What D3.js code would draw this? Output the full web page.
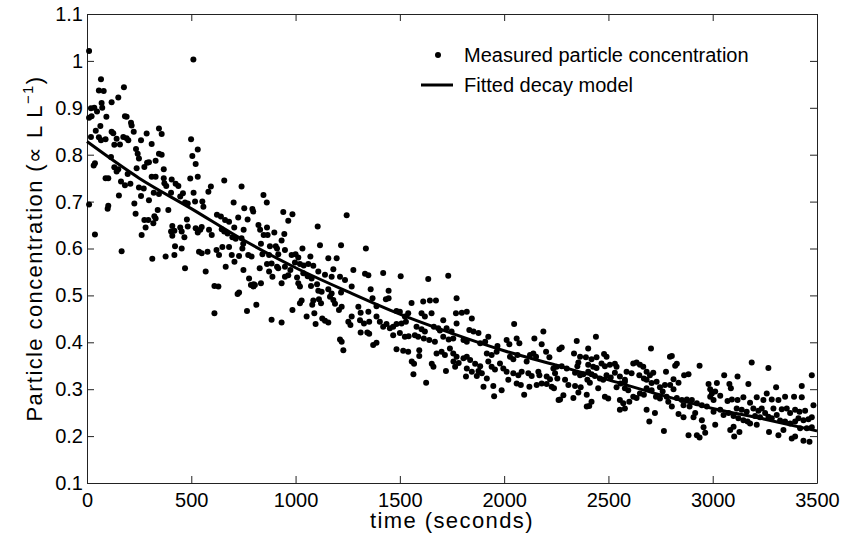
<!DOCTYPE html>
<html>
<head>
<meta charset="utf-8">
<script src="https://cdn.jsdelivr.net/npm/d3@7"></script>
<style>
  body { margin: 0; background: #fff; }
  svg { display: block; }
  .tickText { font-family: "Liberation Sans", Arial, Helvetica, sans-serif; font-size: 20px; fill: #000; }
  .axisLabel { font-family: "Liberation Sans", Arial, Helvetica, sans-serif; font-size: 22px; letter-spacing: 1.4px; fill: #000; }
</style>
</head>
<body>
<div id="chart"></div>
<script>
// x / y domains and ticks
const xTicks = [0, 500, 1000, 1500, 2000, 2500, 3000, 3500];
const yTicks = [0.1, 0.2, 0.3, 0.4, 0.5, 0.6, 0.7, 0.8, 0.9, 1, 1.1];

// measured particle concentration, [time (s), concentration]
const measured = [
  [10,1.021],[510,1.003],[67,0.961],[57,0.937],[80,0.936],[177,0.944],[150,0.922],[118,0.912],[70,0.910],[73,0.900],
  [19,0.899],[35,0.900],[48,0.892],[10,0.879],[22,0.882],[93,0.881],[182,0.882],[190,0.881],[211,0.868],[214,0.862],
  [64,0.861],[42,0.851],[118,0.849],[126,0.846],[224,0.849],[345,0.856],[358,0.844],[286,0.845],[19,0.838],[57,0.837],
  [67,0.831],[89,0.833],[142,0.834],[131,0.821],[158,0.822],[174,0.838],[190,0.835],[198,0.831],[259,0.831],[310,0.823],
  [499,0.833],[531,0.811],[235,0.812],[243,0.802],[249,0.792],[115,0.795],[38,0.782],[32,0.777],[345,0.802],[358,0.800],
  [288,0.783],[275,0.774],[297,0.784],[329,0.787],[368,0.769],[131,0.773],[142,0.764],[150,0.769],[195,0.759],[238,0.771],
  [505,0.797],[521,0.780],[531,0.753],[495,0.749],[310,0.753],[329,0.753],[368,0.750],[89,0.750],[102,0.750],[163,0.743],
  [182,0.735],[208,0.738],[406,0.747],[425,0.738],[438,0.733],[371,0.739],[380,0.733],[658,0.745],[594,0.732],[582,0.721],
  [741,0.732],[249,0.730],[272,0.728],[153,0.713],[320,0.719],[345,0.716],[403,0.719],[460,0.718],[447,0.711],[470,0.698],
  [483,0.696],[511,0.719],[518,0.700],[553,0.700],[558,0.689],[297,0.703],[259,0.712],[227,0.696],[10,0.694],[102,0.691],
  [99,0.685],[703,0.698],[754,0.686],[793,0.684],[797,0.679],[233,0.674],[339,0.682],[390,0.682],[323,0.669],[318,0.654],
  [329,0.664],[275,0.661],[294,0.661],[281,0.645],[262,0.629],[38,0.630],[623,0.672],[642,0.668],[662,0.661],[681,0.657],
  [725,0.666],[770,0.662],[646,0.641],[658,0.636],[674,0.632],[706,0.645],[751,0.640],[409,0.648],[403,0.636],[419,0.638],
  [409,0.627],[447,0.645],[454,0.636],[479,0.662],[483,0.647],[521,0.643],[531,0.634],[543,0.640],[550,0.646],[585,0.640],
  [598,0.629],[697,0.624],[713,0.621],[741,0.622],[749,0.610],[467,0.624],[422,0.605],[454,0.600],[166,0.594],[313,0.578],
  [377,0.583],[419,0.586],[537,0.593],[550,0.590],[578,0.593],[621,0.597],[633,0.586],[649,0.603],[681,0.603],[694,0.586],
  [729,0.584],[745,0.600],[773,0.586],[789,0.583],
  [470,0.558],[569,0.551],[611,0.520],[630,0.519],[665,0.561],[722,0.503],[729,0.506],[611,0.462],[767,0.467],[812,0.480],
  [750,0.554],[777,0.536],[786,0.522],[799,0.524],[707,0.572],
  [846,0.714],[862,0.698],[941,0.678],[985,0.673],[965,0.659],[1245,0.671],[1106,0.647],[822,0.650],[830,0.640],[863,0.645],
  [898,0.634],[847,0.629],[866,0.629],[946,0.631],[933,0.617],[834,0.610],[877,0.605],[905,0.605],[911,0.600],[949,0.597],
  [873,0.586],[841,0.588],[917,0.588],[981,0.586],[1000,0.588],[1013,0.581],[1033,0.600],[1071,0.583],[1117,0.607],[1218,0.607],
  [1157,0.579],[1197,0.579],[863,0.567],[885,0.568],[911,0.561],[917,0.558],[828,0.558],[873,0.551],[889,0.540],[949,0.561],
  [975,0.554],[997,0.570],[1021,0.567],[1039,0.564],[1061,0.567],[1085,0.563],[965,0.543],[949,0.540],[933,0.526],[1007,0.538],
  [1013,0.526],[1021,0.519],[834,0.526],[798,0.519],[805,0.522],[1037,0.547],[1058,0.541],[1077,0.536],[1109,0.551],[1141,0.544],
  [1173,0.540],[1181,0.556],[1213,0.540],[1237,0.533],[1269,0.519],[1277,0.554],[1074,0.520],[1103,0.524],[1109,0.510],[1125,0.508],
  [1157,0.513],[1173,0.504],[1218,0.506],[1029,0.489],[1021,0.483],[1085,0.489],[1080,0.480],[1112,0.492],[1122,0.483],[1165,0.497],
  [1181,0.490],[1189,0.482],[985,0.469],[1053,0.455],[1090,0.462],[1096,0.439],[1128,0.451],[1141,0.446],[1157,0.442],[885,0.448],
  [933,0.442],[1208,0.469],[1221,0.476],[1253,0.444],[1263,0.437],[1269,0.455],
  [1337,0.600],[1420,0.548],[1333,0.546],[1349,0.543],[1504,0.541],[1636,0.535],[1732,0.542],[1360,0.513],[1446,0.510],[1433,0.492],
  [1446,0.494],[1369,0.494],[1301,0.476],[1312,0.463],[1349,0.465],[1388,0.477],[1556,0.484],[1612,0.487],[1644,0.489],[1673,0.489],
  [1772,0.494],[1484,0.467],[1500,0.465],[1540,0.462],[1524,0.455],[1604,0.462],[1620,0.455],[1652,0.462],[1769,0.462],[1708,0.447],
  [1309,0.447],[1328,0.440],[1353,0.444],[1388,0.455],[1404,0.444],[1420,0.433],[1436,0.439],[1452,0.430],[1468,0.433],[1484,0.439],
  [1508,0.440],[1529,0.444],[1580,0.433],[1604,0.428],[1620,0.423],[1663,0.433],[1684,0.430],[1692,0.425],[1724,0.430],[1748,0.423],
  [1772,0.440],[1344,0.421],[1353,0.418],[1388,0.399],[1372,0.394],[1468,0.415],[1500,0.420],[1524,0.412],[1542,0.413],[1572,0.415],
  [1588,0.412],[1615,0.408],[1641,0.405],[1668,0.401],[1708,0.412],[1734,0.406],[1756,0.408],[1484,0.385],[1516,0.382],[1540,0.380],
  [1593,0.383],[1593,0.371],[1676,0.376],[1700,0.380],[1716,0.373],[1740,0.387],[1756,0.376],[1772,0.369],[1213,0.406],[1221,0.401],
  [1229,0.383],[1312,0.421],
  [1797,0.463],[1821,0.465],[1845,0.451],[1833,0.426],[1853,0.423],[1877,0.420],[1924,0.412],[1805,0.405],[1821,0.401],[1885,0.398],
  [1909,0.401],[1805,0.366],[1821,0.369],[1837,0.362],[1861,0.354],[1885,0.349],[1877,0.339],[1821,0.344],[1845,0.337],[1817,0.327],
  [1869,0.328],[1893,0.334],[1917,0.376],[1940,0.373],[1964,0.380],[1968,0.392],[1917,0.323],[1901,0.305],[1948,0.307],[1952,0.285],
  [1988,0.298],[1924,0.359],[1940,0.348],[1956,0.342],[1980,0.355],[1996,0.344],[2012,0.337],[2012,0.405],[2025,0.396],[2048,0.439],
  [2060,0.408],[2073,0.398],[2028,0.369],[2044,0.364],[2064,0.373],[2020,0.320],[2044,0.334],[2068,0.330],[2084,0.337],[2060,0.312],
  [2080,0.309],[2096,0.288],[2108,0.359],[2124,0.373],[2140,0.376],[2153,0.369],[2145,0.408],[2188,0.423],[2180,0.396],[2201,0.380],
  [2217,0.368],[2116,0.334],[2132,0.328],[2121,0.305],[2156,0.309],[2180,0.312],[2204,0.311],[2164,0.337],[2169,0.330],[2204,0.327],
  [2220,0.321],[2236,0.344],[2252,0.348],[2276,0.349],[2300,0.344],[2265,0.385],[2276,0.389],[2244,0.334],[2255,0.323],[2228,0.305],
  [2239,0.302],[2292,0.320],[2308,0.309],[2284,0.287],[2268,0.278],[1565,0.332],[1626,0.314],[1557,0.359],[1568,0.354],[1653,0.354],
  [1661,0.348],[1721,0.339],[1757,0.359],[1765,0.348],[1782,0.356],
  [2348,0.403],[2440,0.412],[2403,0.387],[2335,0.376],[2364,0.369],[2392,0.368],[2419,0.364],[2443,0.368],[2479,0.375],[2491,0.369],
  [2356,0.357],[2351,0.349],[2403,0.352],[2427,0.348],[2443,0.345],[2467,0.355],[2483,0.349],[2507,0.352],[2531,0.354],[2539,0.348],
  [2340,0.335],[2364,0.330],[2380,0.332],[2403,0.337],[2419,0.332],[2399,0.320],[2411,0.314],[2435,0.328],[2459,0.323],[2475,0.320],
  [2491,0.330],[2511,0.325],[2531,0.335],[2340,0.307],[2367,0.304],[2356,0.293],[2396,0.288],[2419,0.273],[2408,0.264],[2451,0.302],
  [2483,0.284],[2499,0.280],[2539,0.304],[2558,0.312],[2579,0.316],[2579,0.302],[2595,0.298],[2555,0.277],[2571,0.270],[2555,0.256],
  [2579,0.259],[2600,0.273],[2619,0.284],[2635,0.281],[2619,0.355],[2635,0.357],[2651,0.352],[2667,0.348],[2587,0.337],[2611,0.334],
  [2648,0.330],[2670,0.323],[2683,0.337],[2699,0.330],[2715,0.335],[2704,0.387],[2776,0.337],[2795,0.369],[2555,0.327],[2579,0.320],
  [2683,0.320],[2707,0.313],[2731,0.316],[2747,0.304],[2771,0.309],[2683,0.302],[2707,0.298],[2651,0.291],[2670,0.288],[2728,0.284],
  [2747,0.280],[2779,0.284],[2787,0.273],[2683,0.256],[2723,0.249],[2696,0.231],[2766,0.211],[2760,0.295],[2261,0.277],[2332,0.281],
  [2396,0.263],
  [2804,0.371],[2820,0.350],[2828,0.354],[2937,0.350],[2863,0.330],[2884,0.332],[2812,0.321],[2836,0.314],[2796,0.309],[2812,0.300],
  [3055,0.330],[3119,0.327],[3187,0.357],[3267,0.345],[3475,0.330],[2980,0.311],[3020,0.313],[3080,0.311],[3087,0.302],[3171,0.311],
  [3304,0.304],[3427,0.307],[2988,0.300],[2996,0.291],[3012,0.295],[2988,0.284],[3004,0.277],[3036,0.286],[3071,0.275],[3092,0.278],
  [3119,0.277],[3147,0.283],[3179,0.271],[3211,0.283],[3243,0.277],[3259,0.291],[3283,0.278],[3315,0.277],[3347,0.284],[3390,0.284],
  [3427,0.283],[3483,0.266],[2828,0.281],[2852,0.277],[2876,0.278],[2900,0.277],[2924,0.270],[2948,0.266],[2972,0.263],[2860,0.266],
  [2889,0.263],[2804,0.263],[2836,0.247],[2860,0.240],[2916,0.249],[2908,0.240],[2948,0.234],[3004,0.252],[3036,0.256],[3052,0.245],
  [3076,0.249],[3115,0.259],[3139,0.256],[3163,0.252],[3100,0.243],[3123,0.238],[3147,0.234],[3167,0.231],[3195,0.259],[3219,0.254],
  [3235,0.259],[3203,0.243],[3227,0.240],[3179,0.227],[3211,0.224],[3251,0.249],[3267,0.241],[3283,0.238],[3307,0.245],[3291,0.259],
  [3331,0.257],[3355,0.259],[3371,0.249],[3395,0.256],[3416,0.252],[3443,0.254],[3323,0.233],[3347,0.231],[3371,0.227],[3395,0.231],
  [3411,0.238],[3435,0.234],[3459,0.236],[3475,0.240],[3419,0.217],[3451,0.217],[3475,0.219],[2956,0.219],[2964,0.207],[2924,0.202],
  [2937,0.197],[3103,0.199],[3128,0.209],[2884,0.202],[3012,0.224],[3270,0.209],[3315,0.202],[3339,0.213],[3379,0.195],[3395,0.199],
  [3435,0.190],[3464,0.188],[3084,0.213],[3100,0.220]
];

// fitted decay model
const fitTime = [0, 250, 500, 750, 1000, 1250, 1500, 1750, 2000, 2250, 2500, 2750, 3000, 3250, 3500];
const fitConc = [0.828, 0.750, 0.685, 0.618, 0.559, 0.508, 0.460, 0.419, 0.382, 0.351, 0.320, 0.288, 0.259, 0.236, 0.211];

const legendLabels = ['Measured particle concentration', 'Fitted decay model'];

const width = 860, height = 534;
const margin = {top: 14, right: 43, bottom: 51, left: 87};
const innerWidth = width - margin.left - margin.right;
const innerHeight = height - margin.top - margin.bottom;

const svg = d3.select('#chart').append('svg')
    .attr('width', width)
    .attr('height', height);

const g = svg.append('g')
    .attr('transform', `translate(${margin.left},${margin.top})`);

const x = d3.scaleLinear().domain([0, 3500]).range([0, innerWidth]);
const y = d3.scaleLinear().domain([0.1, 1.1]).range([innerHeight, 0]);

// box with inward ticks on all four sides (matlab style)
function styleAxis(sel) {
    sel.select('.domain').attr('stroke', '#222').attr('stroke-width', 1);
    sel.selectAll('.tick line').attr('stroke', '#222');
    sel.selectAll('text').attr('class', 'tickText').attr('fill', '#000')
        .style('font-family', '"Liberation Sans", Arial, Helvetica, sans-serif').style('font-size', '20px');
}

g.append('g')
    .attr('transform', `translate(0,${innerHeight})`)
    .call(d3.axisBottom(x).tickValues(xTicks).tickSizeInner(-7).tickSizeOuter(0).tickPadding(10).tickFormat(d3.format('d')))
    .call(styleAxis);

g.append('g')
    .call(d3.axisLeft(y).tickValues(yTicks).tickSizeInner(-7).tickSizeOuter(0).tickPadding(4).tickFormat(d => String(+d.toFixed(1))))
    .call(styleAxis);

// top and right: ticks only
const topAxis = g.append('g')
    .call(d3.axisTop(x).tickValues(xTicks).tickSizeInner(-7).tickSizeOuter(0))
    .call(styleAxis);
topAxis.selectAll('text').remove();

const rightAxis = g.append('g')
    .attr('transform', `translate(${innerWidth},0)`)
    .call(d3.axisRight(y).tickValues(yTicks).tickSizeInner(-7).tickSizeOuter(0))
    .call(styleAxis);
rightAxis.selectAll('text').remove();

// measured points
g.append('g')
    .selectAll('circle')
    .data(measured)
    .join('circle')
    .attr('cx', d => x(d[0]))
    .attr('cy', d => y(d[1]))
    .attr('r', 3)
    .attr('fill', '#000');

// fitted curve
const fitData = fitTime.map((t, i) => [t, fitConc[i]]);
g.append('path')
    .datum(fitData)
    .attr('fill', 'none')
    .attr('stroke', '#000')
    .attr('stroke-width', 3)
    .attr('d', d3.line().x(d => x(d[0])).y(d => y(d[1])).curve(d3.curveMonotoneX));

// legend
const legend = svg.append('g').attr('transform', 'translate(420,55)');
legend.append('circle').attr('cx', 18).attr('cy', 0).attr('r', 3).attr('fill', '#000');
legend.append('text').attr('class', 'tickText').attr('x', 44).attr('y', 0).attr('dy', '0.35em').text(legendLabels[0]);
legend.append('line').attr('x1', 1).attr('x2', 33).attr('y1', 30).attr('y2', 30).attr('stroke', '#000').attr('stroke-width', 3);
legend.append('text').attr('class', 'tickText').attr('x', 44).attr('y', 30).attr('dy', '0.35em').text(legendLabels[1]);

// axis labels
svg.append('text')
    .attr('class', 'axisLabel')
    .attr('x', margin.left + innerWidth / 2)
    .attr('y', 528)
    .attr('text-anchor', 'middle')
    .text('time (seconds)');

const yLabel = svg.append('text')
    .attr('class', 'axisLabel')
    .attr('transform', `translate(42,${margin.top + innerHeight / 2}) rotate(-90)`)
    .attr('text-anchor', 'middle');
yLabel.append('tspan').text('Particle concentration (\u221D L L');
yLabel.append('tspan').attr('dy', -9).style('font-size', '15px').text('\u22121');
yLabel.append('tspan').attr('dy', 9).text(')');
</script>
</body>
</html>
